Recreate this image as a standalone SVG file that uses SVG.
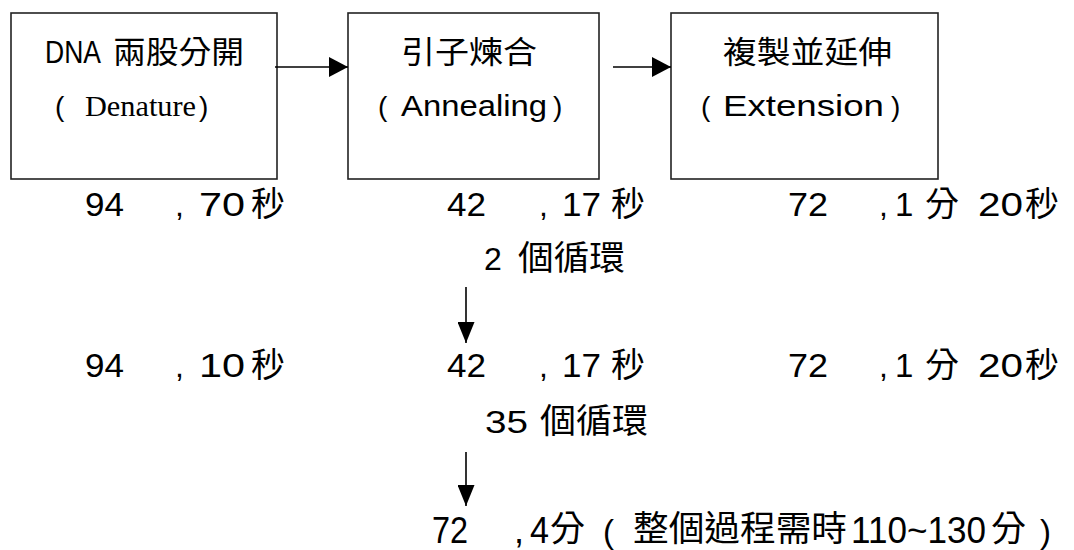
<svg xmlns="http://www.w3.org/2000/svg" width="1074" height="550" viewBox="0 0 1074 550">
<style>
.box{fill:#fff;stroke:#222;stroke-width:1.6}
.lat{font-family:"Liberation Sans",Arial,sans-serif;fill:#000}
.ser{font-family:"Liberation Serif","Times New Roman",serif;fill:#000}
.cjk{font-family:"Noto Sans CJK TC","Noto Sans CJK SC",sans-serif;fill:#000}
.ln{stroke:#000;stroke-width:1.6;fill:none}
</style>
<defs>
<marker id="ah" markerUnits="userSpaceOnUse" viewBox="0 0 19 20" refX="19" refY="10" markerWidth="19" markerHeight="20" orient="auto">
<path d="M0,0 L19,10 L0,20 Z" fill="#000"/>
</marker>
<marker id="av" markerUnits="userSpaceOnUse" viewBox="0 0 21 17" refX="21" refY="8.5" markerWidth="21" markerHeight="17" orient="auto">
<path d="M0,0 L21,8.5 L0,17 Z" fill="#000"/>
</marker>
</defs>
<rect width="1074" height="550" fill="#fff"/>
<g id="node-denature">
<rect class="box" x="11" y="13" width="266" height="166"/>
<text class="lat" x="45" y="63" font-size="31" textLength="56" lengthAdjust="spacingAndGlyphs">DNA</text>
<text class="cjk" x="113" y="63" font-size="31" textLength="131" lengthAdjust="spacingAndGlyphs">兩股分開</text>
<text class="lat" x="55" y="116" font-size="28">(</text>
<text class="ser" x="85" y="116" font-size="30" textLength="111" lengthAdjust="spacingAndGlyphs">Denature</text>
<text class="lat" x="199" y="116" font-size="28">)</text>
</g>
<g id="node-annealing">
<rect class="box" x="348" y="13" width="251" height="166"/>
<text class="cjk" x="401" y="63" font-size="31" textLength="136" lengthAdjust="spacingAndGlyphs">引子煉合</text>
<text class="lat" x="378" y="116" font-size="28">(</text>
<text class="lat" x="401" y="116" font-size="30" textLength="146" lengthAdjust="spacingAndGlyphs">Annealing</text>
<text class="lat" x="553" y="116" font-size="28">)</text>
</g>
<g id="node-extension">
<rect class="box" x="671" y="13" width="267" height="166"/>
<text class="cjk" x="723" y="63" font-size="31" textLength="169" lengthAdjust="spacingAndGlyphs">複製並延伸</text>
<text class="lat" x="701" y="116" font-size="28">(</text>
<text class="lat" x="723" y="116" font-size="30" textLength="161" lengthAdjust="spacingAndGlyphs">Extension</text>
<text class="lat" x="891" y="116" font-size="28">)</text>
</g>
<g id="connectors">
<line class="ln" x1="275" y1="67" x2="348" y2="67" marker-end="url(#ah)"/>
<line class="ln" x1="613" y1="67" x2="671" y2="67" marker-end="url(#ah)"/>
<line class="ln" x1="466" y1="287" x2="466" y2="343" marker-end="url(#av)"/>
<line class="ln" x1="466" y1="452" x2="466" y2="506" marker-end="url(#av)"/>
</g>
<g id="row1">
<text class="lat" x="85" y="216" font-size="33" textLength="39" lengthAdjust="spacingAndGlyphs">94</text>
<text class="lat" x="175" y="216" font-size="32">,</text>
<text class="lat" x="199" y="216" font-size="33" textLength="46" lengthAdjust="spacingAndGlyphs">70</text>
<text class="cjk" x="251" y="216" font-size="34">秒</text>
<text class="lat" x="447" y="216" font-size="33" textLength="39" lengthAdjust="spacingAndGlyphs">42</text>
<text class="lat" x="539" y="216" font-size="32">,</text>
<text class="lat" x="562" y="216" font-size="33" textLength="39" lengthAdjust="spacingAndGlyphs">17</text>
<text class="cjk" x="611" y="216" font-size="34">秒</text>
<text class="lat" x="788" y="216" font-size="33" textLength="40" lengthAdjust="spacingAndGlyphs">72</text>
<text class="lat" x="879" y="216" font-size="32">,</text>
<text class="lat" x="895" y="216" font-size="33">1</text>
<text class="cjk" x="925" y="216" font-size="34">分</text>
<text class="lat" x="978" y="216" font-size="33" textLength="45" lengthAdjust="spacingAndGlyphs">20</text>
<text class="cjk" x="1025" y="216" font-size="34">秒</text>
</g>
<g id="cycles1">
<text class="lat" x="484" y="270" font-size="32">2</text>
<text class="cjk" x="518" y="270" font-size="34" textLength="107" lengthAdjust="spacingAndGlyphs">個循環</text>
</g>
<g id="row2">
<text class="lat" x="85" y="377" font-size="33" textLength="39" lengthAdjust="spacingAndGlyphs">94</text>
<text class="lat" x="175" y="377" font-size="32">,</text>
<text class="lat" x="199" y="377" font-size="33" textLength="46" lengthAdjust="spacingAndGlyphs">10</text>
<text class="cjk" x="251" y="377" font-size="34">秒</text>
<text class="lat" x="447" y="377" font-size="33" textLength="39" lengthAdjust="spacingAndGlyphs">42</text>
<text class="lat" x="539" y="377" font-size="32">,</text>
<text class="lat" x="562" y="377" font-size="33" textLength="39" lengthAdjust="spacingAndGlyphs">17</text>
<text class="cjk" x="611" y="377" font-size="34">秒</text>
<text class="lat" x="788" y="377" font-size="33" textLength="40" lengthAdjust="spacingAndGlyphs">72</text>
<text class="lat" x="879" y="377" font-size="32">,</text>
<text class="lat" x="895" y="377" font-size="33">1</text>
<text class="cjk" x="925" y="377" font-size="34">分</text>
<text class="lat" x="978" y="377" font-size="33" textLength="45" lengthAdjust="spacingAndGlyphs">20</text>
<text class="cjk" x="1025" y="377" font-size="34">秒</text>
</g>
<g id="cycles2">
<text class="lat" x="485" y="433" font-size="32" textLength="43" lengthAdjust="spacingAndGlyphs">35</text>
<text class="cjk" x="540" y="433" font-size="34" textLength="108" lengthAdjust="spacingAndGlyphs">個循環</text>
</g>
<g id="final">
<text class="lat" x="432" y="543" font-size="37" textLength="36" lengthAdjust="spacingAndGlyphs">72</text>
<text class="lat" x="514" y="543" font-size="36">,</text>
<text class="lat" x="530" y="543" font-size="37" textLength="19" lengthAdjust="spacingAndGlyphs">4</text>
<text class="cjk" x="550" y="541" font-size="35">分</text>
<text class="lat" x="603" y="543" font-size="33">(</text>
<text class="cjk" x="633" y="541" font-size="35" textLength="214" lengthAdjust="spacingAndGlyphs">整個過程需時</text>
<text class="lat" x="851" y="543" font-size="37" textLength="135" lengthAdjust="spacingAndGlyphs">110~130</text>
<text class="cjk" x="991" y="541" font-size="35">分</text>
<text class="lat" x="1040" y="543" font-size="33">)</text>
</g>
</svg>
